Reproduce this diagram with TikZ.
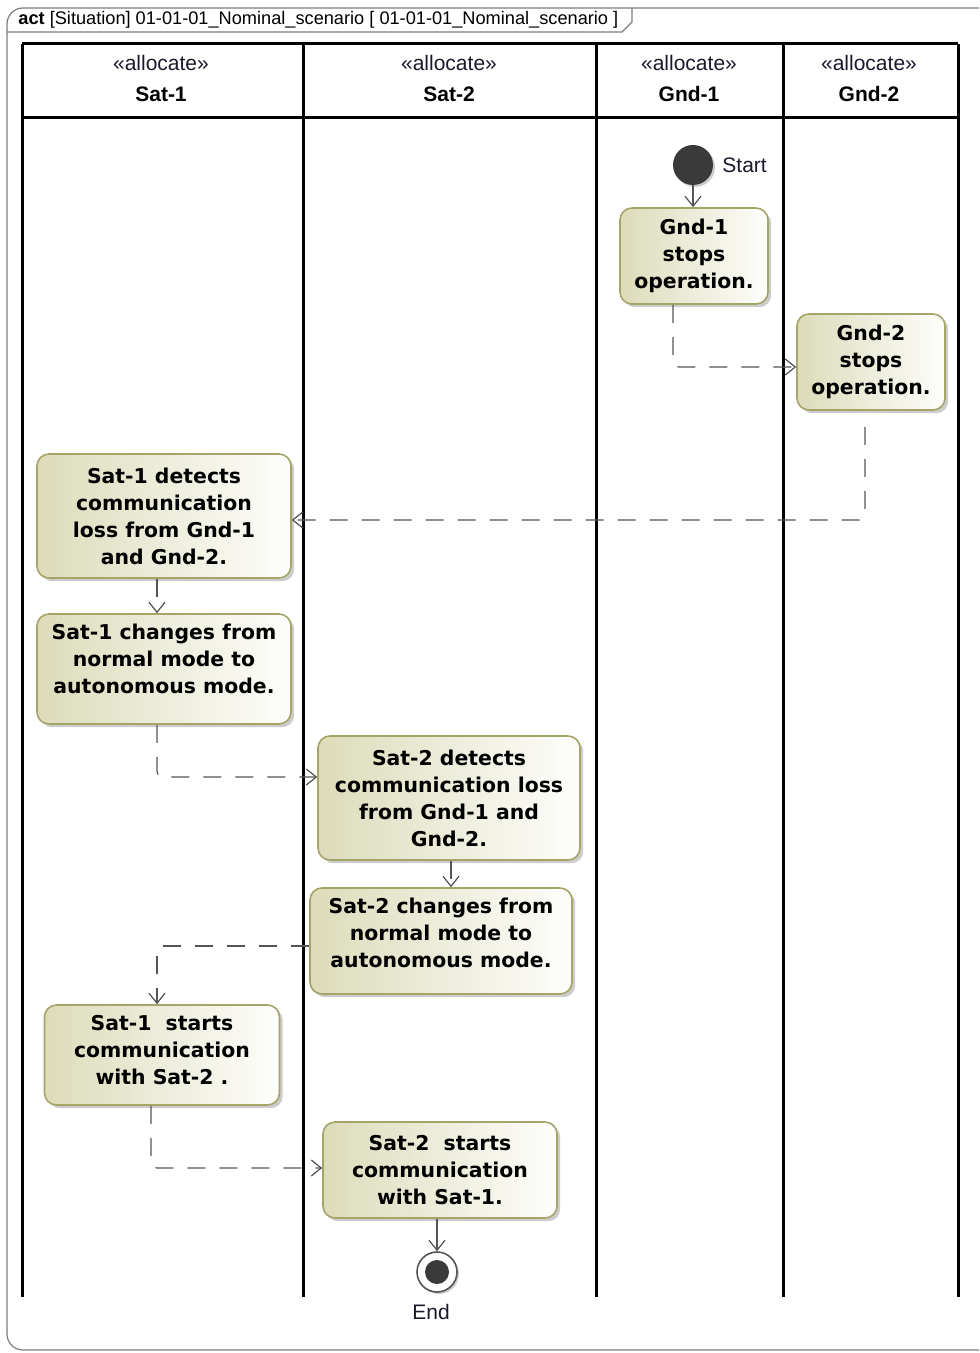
\documentclass[tikz,border=0pt]{standalone}
\usepackage{fontspec}
\setmainfont{Liberation Sans}
\newfontfamily\actfont{DejaVu Sans}
\usetikzlibrary{arrows.meta,shadows}

\definecolor{actfill}{RGB}{220,220,186}
\definecolor{actdraw}{RGB}{165,165,105}
\definecolor{flowgray}{RGB}{85,85,85}
\definecolor{framegray}{RGB}{125,125,125}
\definecolor{dotgray}{RGB}{58,58,58}
\definecolor{labelink}{RGB}{25,25,45}

\tikzset{
  action/.style={draw=actdraw, line width=0.8pt, rounded corners=6pt,
    left color=actfill, right color=white!96!actfill, align=center, inner sep=0pt,
    font=\actfont\bfseries\fontsize{10.2}{13.5}\selectfont,
    drop shadow={shadow xshift=1.6pt, shadow yshift=-1.6pt, fill=black!40, opacity=0.5}},
  lane/.style={line width=1.5pt, black},
  flow/.style={draw=flowgray, line width=0.6pt, -{Straight Barb[length=5pt,width=8pt]}},
  dashflow/.style={flow, dash pattern=on 9pt off 7pt, rounded corners=3pt},
}

\begin{document}
\begin{tikzpicture}[x=0.5pt,y=-0.5pt]
  \useasboundingbox (0,0) rectangle (979,1353);

  % frame and title tab
  \draw[framegray, line width=0.6pt, rounded corners=8pt] (979,8) -- (7,8) -- (7,1350) -- (979,1350);
  \draw[framegray, line width=0.6pt] (7,32) -- (622,32) -- (632,22) -- (632,8);
  \node[anchor=west, font=\fontsize{9.1}{10}\selectfont, inner sep=0pt] (title) at (18,20)
    {\textbf{act} [Situation] 01-01-01\_Nominal\_scenario [ 01-01-01\_Nominal\_scenario ]};

  % swimlanes
  \draw[lane] (22,44) -- (958,44);
  \draw[lane] (22,118) -- (958,118);
  \foreach \lx in {22,303,596,783,958}
    \draw[lane] (\lx,44) -- (\lx,1297);
  \foreach \cx/\nm in {161/Sat-1,449/Sat-2,689/Gnd-1,869/Gnd-2} {
    \node[font=\fontsize{10.5}{12}\selectfont, text=labelink] at (\cx,63) {«allocate»};
    \node[font=\bfseries\fontsize{10.5}{12}\selectfont] at (\cx,94) {\nm};
  }

  % initial and final nodes
  \node[circle, fill=dotgray, minimum size=20pt, inner sep=0pt,
    drop shadow={shadow xshift=1pt, shadow yshift=-1pt, fill=black!40, opacity=0.5},
    label={[font=\fontsize{10.5}{12}\selectfont, text=labelink, label distance=1pt]right:Start}]
    (start) at (693,165) {};
  \node[circle, draw=flowgray, fill=white, line width=0.8pt, minimum size=20pt, inner sep=0pt,
    drop shadow={shadow xshift=1pt, shadow yshift=-1pt, fill=black!40, opacity=0.5},
    path picture={\fill[dotgray] (path picture bounding box.center) circle (6pt);},
    label={[font=\fontsize{10.5}{12}\selectfont, text=labelink, label distance=2pt, xshift=-3pt]below:End}]
    (final) at (437,1272) {};

  % actions
  \node[action, minimum width=74pt, minimum height=48pt] (gnd1stop) at (694,256)
    {Gnd-1\\stops\\operation.};
  \node[action, minimum width=74pt, minimum height=48pt] (gnd2stop) at (871,362)
    {Gnd-2\\stops\\operation.};
  \node[action, minimum width=127pt, minimum height=62pt] (sat1detect) at (164,516)
    {Sat-1 detects\\communication\\loss from Gnd-1\\and Gnd-2.};
  \node[action, minimum width=127pt, minimum height=55pt] (sat1mode) at (164,669)
    {Sat-1 changes from\\normal mode to\\autonomous mode.\\[-3.5pt]};
  \node[action, minimum width=131pt, minimum height=62pt] (sat2detect) at (449,798)
    {Sat-2 detects\\communication loss\\from Gnd-1 and\\Gnd-2.};
  \node[action, minimum width=131pt, minimum height=53pt] (sat2mode) at (441,941)
    {Sat-2 changes from\\normal mode to\\autonomous mode.\\[-5.5pt]};
  \node[action, minimum width=117.5pt, minimum height=50pt] (sat1comm) at (162,1055)
    {Sat-1~ starts\\communication\\with Sat-2 .\\[-8.5pt]};
  \node[action, minimum width=117pt, minimum height=48pt] (sat2comm) at (440,1170)
    {Sat-2~ starts\\communication\\with Sat-1.};

  % flows
  \draw[flow] (start.south) -- (gnd1stop.north -| start);
  \draw[dashflow] ([xshift=-10.5pt]gnd1stop.south) |- ([yshift=-2.5pt]gnd2stop.west);
  \draw[dashflow] ([xshift=-3pt,yshift=-8pt]gnd2stop.south) |- ([yshift=-2pt]sat1detect.east);
  \draw[dashflow] ([xshift=-3.5pt]sat1detect.south) -- ([xshift=-3.5pt]sat1mode.north);
  \draw[dashflow] ([xshift=-3.5pt]sat1mode.south) |- ([yshift=10.5pt]sat2detect.west);
  \draw[dashflow] ([xshift=1pt]sat2detect.south) -- ([xshift=5pt]sat2mode.north);
  \draw[dashflow] ([yshift=-2.5pt]sat2mode.west) -| ([xshift=-2.5pt]sat1comm.north);
  \draw[dashflow] ([xshift=-5.5pt]sat1comm.south) |- ([yshift=1pt]sat2comm.west);
  \draw[flow] (sat2comm.south -| final) -- (final.north);
\end{tikzpicture}
\end{document}
